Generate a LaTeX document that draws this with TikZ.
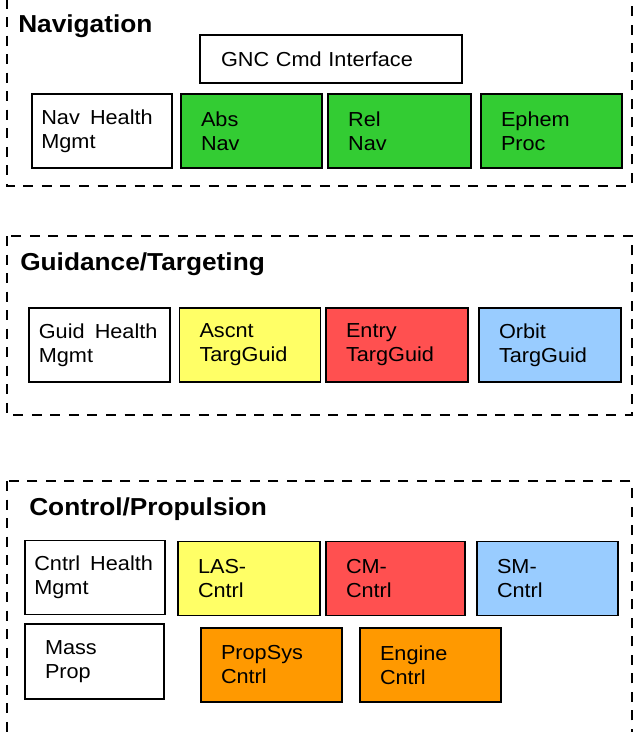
\documentclass[tikz,border=0pt]{standalone}
\usepackage{fontspec}
\newfontfamily\arialf{Liberation Sans}[FakeStretch=1.07]
\definecolor{navgreen}{HTML}{33CC33}
\definecolor{ltyellow}{HTML}{FFFF66}
\definecolor{ltred}{HTML}{FF5050}
\definecolor{ltblue}{HTML}{99CCFF}
\definecolor{proporange}{HTML}{FF9900}
\newcommand{\boxfont}{\arialf\fontsize{15.2}{18}\selectfont}
\newcommand{\grpfont}{\arialf\bfseries\fontsize{18.4}{22}\selectfont}
\newcommand{\hgap}{\hspace{0.5em}}
\tikzset{
  grp/.style={draw=black,line width=1.9pt,dash pattern=on 7.5pt off 6.4pt},
  blk/.style={draw=black,line width=1.45pt,align=left,font=\boxfont,minimum height=55.5pt,inner xsep=15pt,text width=75.75pt},
  hblk/.style={blk,inner xsep=7pt,text width=91pt},
  grptitle/.style={anchor=base west,inner sep=0pt,font=\grpfont}
}

\begin{document}
\begin{tikzpicture}[x=0.75pt,y=-0.75pt]
\useasboundingbox (0,0) rectangle (635,732);
\clip (0,0) rectangle (635,732);
% \draw[help lines,step=50] (0,0) grid (635,732);
\draw[grp] (7,-20) rectangle (632,186);
\draw[grp] (7,236) rectangle (632,415);
\draw[grp] (7,481) rectangle (632,733);
%
\node (navtitle) [grptitle] at (18,32) {Navigation};
\node (gnc) [blk,minimum height=36pt,inner xsep=15.75pt,text width=165pt] at (331,59) {GNC Cmd Interface};
\node (navhm) [hblk] at (102,131) {\mbox{Nav\hgap Health}\\Mgmt};
\node (absnav) [blk,fill=navgreen] at (251.5,131) {Abs\\Nav};
\node (relnav) [blk,fill=navgreen,text width=77pt] at (399.5,131) {Rel\\Nav};
\node (ephem) [blk,fill=navgreen] at (551.5,131) {Ephem\\Proc};
%
\node (guidtitle) [grptitle] at (20,270) {Guidance/Targeting};
\node (guidhm) [hblk,inner xsep=7.5pt] at (99.5,345) {\mbox{Guid\hgap Health}\\Mgmt};
\node (ascnt) [blk,fill=ltyellow] at (250,345) {Ascnt\\TargGuid};
\node (entry) [blk,fill=ltred,text width=76.5pt] at (397,345) {Entry\\TargGuid};
\node (orbit) [blk,fill=ltblue,text width=76.5pt] at (550,345) {Orbit\\TargGuid};
%
\node (ctrltitle) [grptitle] at (29,515) {Control/Propulsion};
\node (cntrlhm) [hblk] at (95,577.5) {\mbox{Cntrl\hgap Health}\\Mgmt};
\node (lascntrl) [blk,fill=ltyellow,text width=76.5pt] at (249,578.5) {LAS-\\Cntrl};
\node (cmcntrl) [blk,fill=ltred,text width=74.25pt] at (395.5,578.5) {CM-\\Cntrl};
\node (smcntrl) [blk,fill=ltblue] at (547.5,578.5) {SM-\\Cntrl};
\node (massprop) [blk,inner xsep=15pt,text width=74.25pt,minimum height=56pt] at (94.5,661.5) {Mass\\Prop};
\node (propsys) [blk,fill=proporange] at (271.5,665) {PropSys\\Cntrl};
\node (engine) [blk,fill=proporange] at (430.5,665) {Engine\\Cntrl};
\end{tikzpicture}
\end{document}
